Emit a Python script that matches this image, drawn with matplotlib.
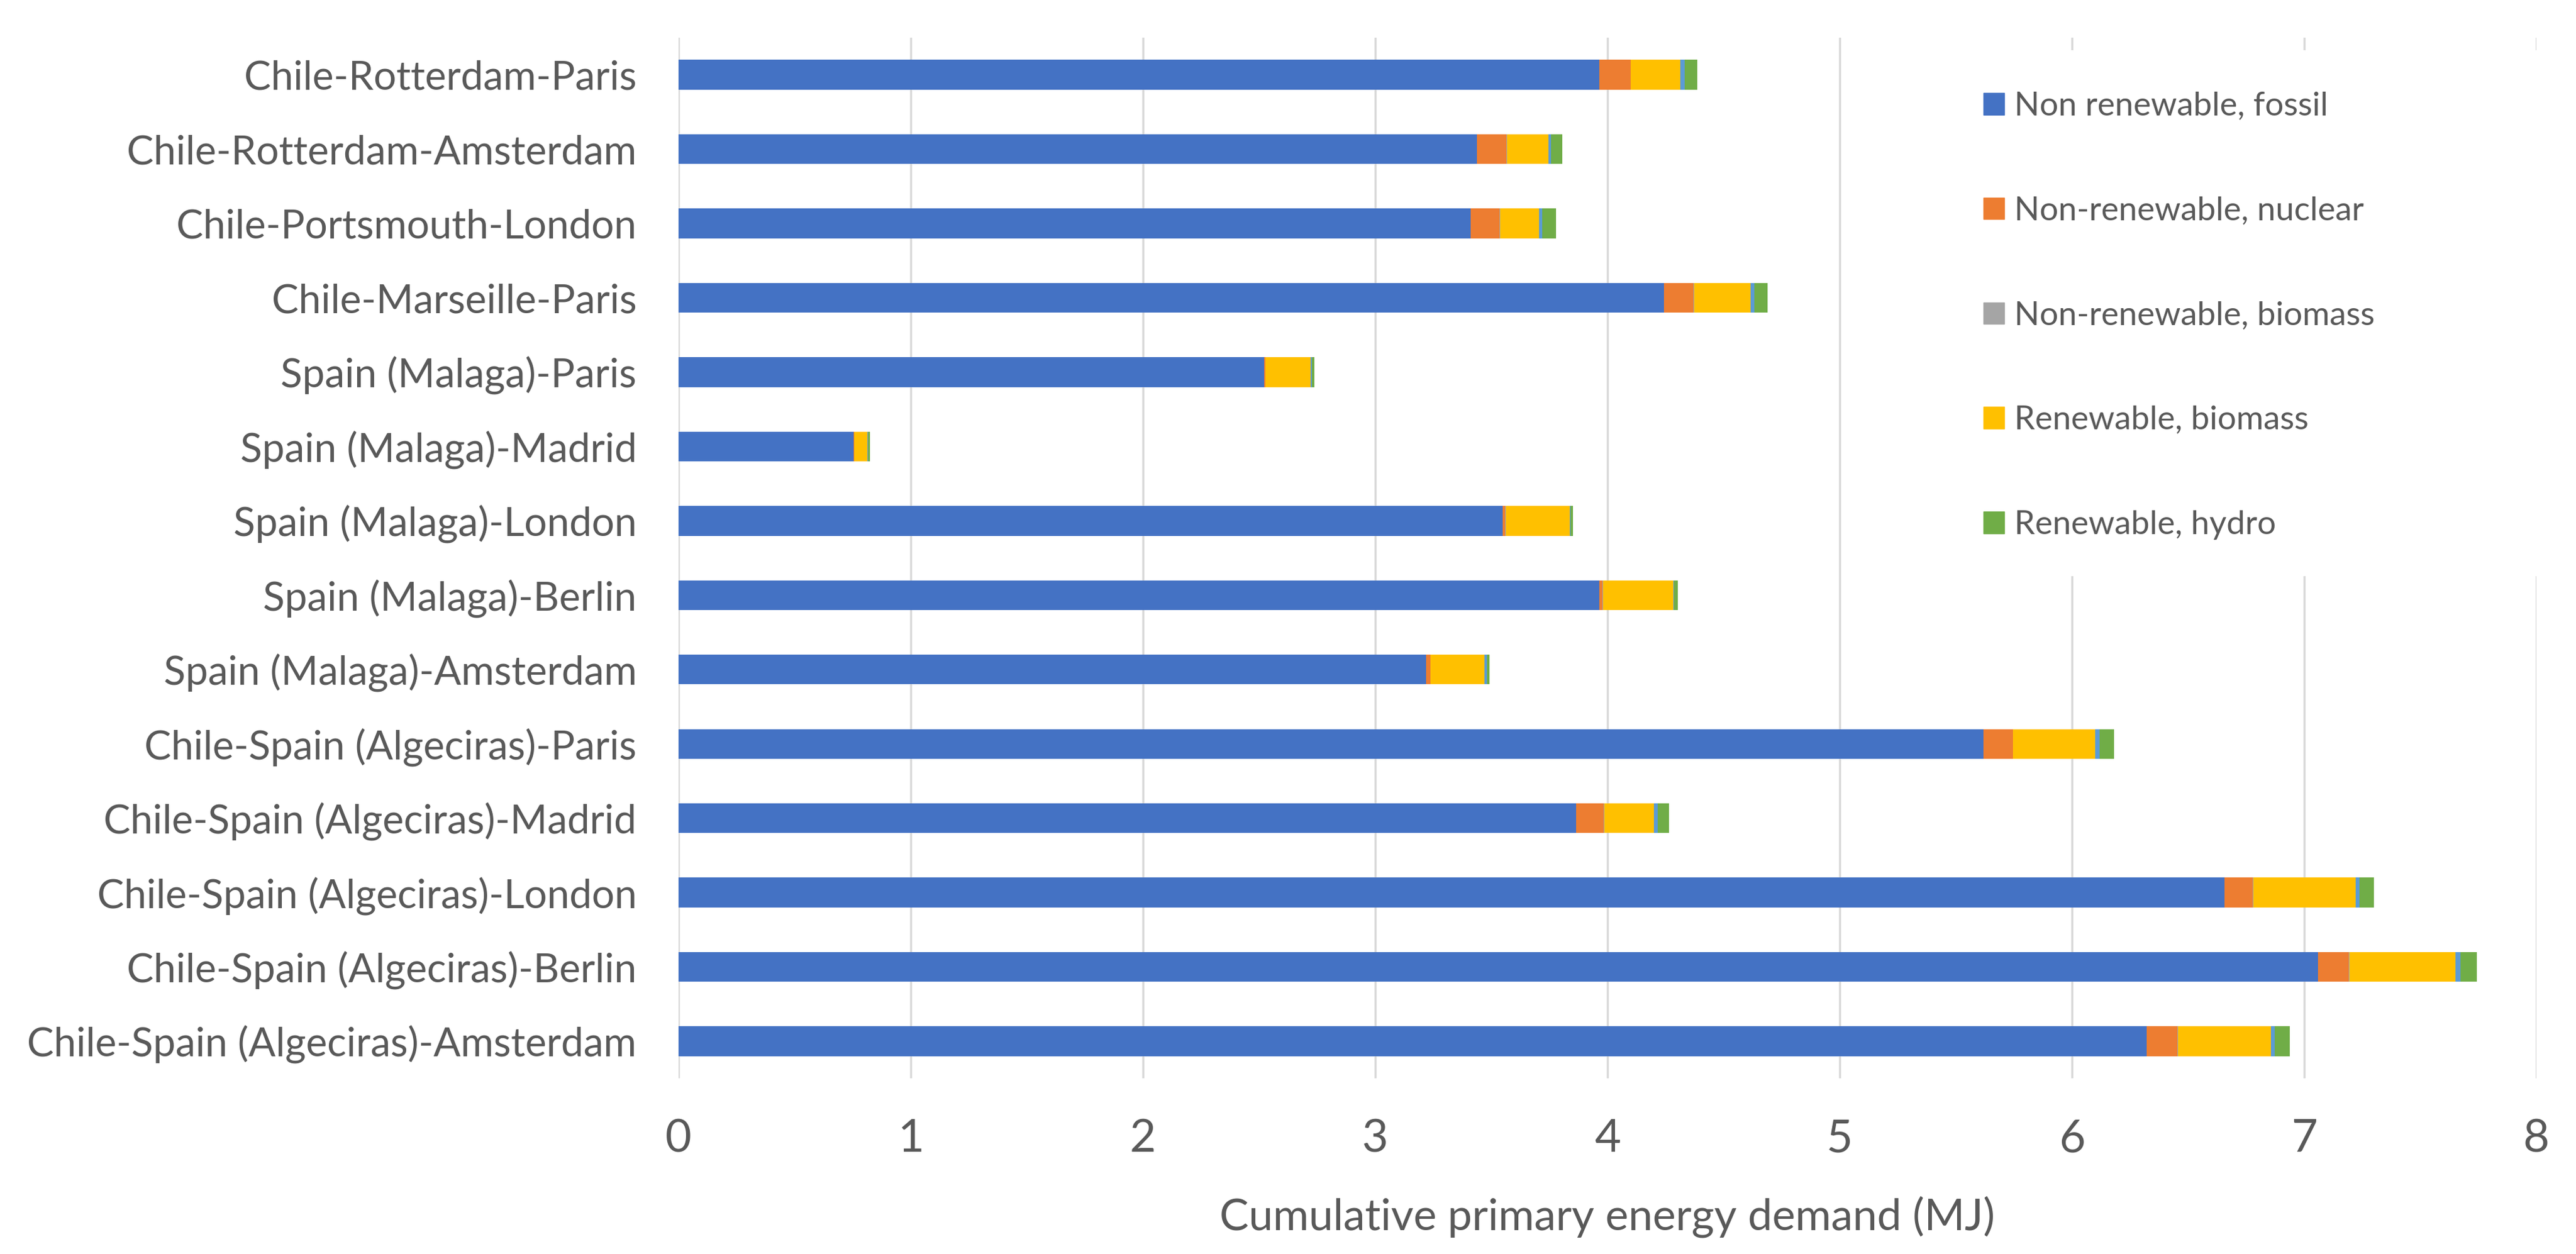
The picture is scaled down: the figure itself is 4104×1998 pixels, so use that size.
import matplotlib
matplotlib.use("Agg")
import matplotlib.pyplot as plt
from matplotlib.patches import Rectangle, Patch
import numpy as np

routes = ["Chile-Rotterdam-Paris", "Chile-Rotterdam-Amsterdam", "Chile-Portsmouth-London",
          "Chile-Marseille-Paris", "Spain (Malaga)-Paris", "Spain (Malaga)-Madrid",
          "Spain (Malaga)-London", "Spain (Malaga)-Berlin", "Spain (Malaga)-Amsterdam",
          "Chile-Spain (Algeciras)-Paris", "Chile-Spain (Algeciras)-Madrid",
          "Chile-Spain (Algeciras)-London", "Chile-Spain (Algeciras)-Berlin",
          "Chile-Spain (Algeciras)-Amsterdam"]

fossil = [3.965, 3.437, 3.411, 4.243, 2.523, 0.754, 3.548, 3.965, 3.218, 5.618, 3.866, 6.658, 7.059, 6.321]
nuclear = [0.134, 0.128, 0.124, 0.128, 0.003, 0.002, 0.013, 0.015, 0.019, 0.127, 0.118, 0.122, 0.134, 0.134]
nr_biomass = [0.002, 0.002, 0.002, 0.002, 0.001, 0.001, 0.001, 0.001, 0.001, 0.002, 0.002, 0.002, 0.002, 0.002]
r_biomass = [0.213, 0.178, 0.169, 0.244, 0.195, 0.057, 0.276, 0.302, 0.233, 0.354, 0.214, 0.439, 0.457, 0.401]
wind = [0.020, 0.013, 0.014, 0.015, 0.005, 0.003, 0.004, 0.005, 0.010, 0.018, 0.017, 0.016, 0.021, 0.016]
hydro = [0.052, 0.049, 0.058, 0.057, 0.010, 0.007, 0.009, 0.015, 0.010, 0.063, 0.047, 0.064, 0.070, 0.064]

series = [fossil, nuclear, nr_biomass, r_biomass, wind, hydro]
names = ["Non renewable, fossil", "Non-renewable, nuclear", "Non-renewable, biomass",
         "Renewable, biomass", "Renewable, wind", "Renewable, hydro"]
colors = ["#4472C4", "#ED7D31", "#A5A5A5", "#FFC000", "#5B9BD5", "#70AD47"]

txt = "#595959"
fig = plt.figure(figsize=(41.04, 19.98), dpi=100)
ax = fig.add_axes([0.2634, 0.14, 0.7212, 0.83])

y = np.arange(len(routes))
left = np.zeros(len(routes))
for vals, c in zip(series, colors):
    ax.barh(y, vals, left=left, height=0.40, color=c, zorder=3)
    left += np.array(vals)

ax.set_xlim(0, 8)
ax.set_ylim(len(routes) - 0.5, -0.5)
ax.set_xticks(range(0, 9))
ax.set_yticks(y)
ax.set_yticklabels(routes, fontsize=46, color=txt, family="Lato")
ax.tick_params(axis="x", length=0, pad=46, labelsize=52, labelcolor=txt)
ax.tick_params(axis="y", length=0, pad=48)
for lab in ax.get_xticklabels():
    lab.set_family("Lato")
ax.grid(axis="x", color="#D9D9D9", linewidth=2.5, zorder=0)
for s in ax.spines.values():
    s.set_visible(False)
ax.set_xlabel("Cumulative primary energy demand (MJ)", fontsize=50, color=txt,
              family="Lato", labelpad=42)

# white box behind the legend hides the grid
fig.patches.append(Rectangle((0.758, 0.5405), 0.242, 0.4195, transform=fig.transFigure,
                             facecolor="white", edgecolor="none", zorder=1))

handles = [Patch(color=colors[i], label=names[i]) for i in [0, 1, 2, 3, 5]]
leg = fig.legend(handles=handles, loc="upper left", bbox_to_anchor=(0.770, 0.927),
                 frameon=False, handlelength=0.63, handleheight=0.63,
                 handletextpad=0.3, labelspacing=2.27, borderpad=0, borderaxespad=0,
                 prop={"family": "Lato", "size": 38})
for t in leg.get_texts():
    t.set_color(txt)

fig.savefig("out.png", dpi=100)
